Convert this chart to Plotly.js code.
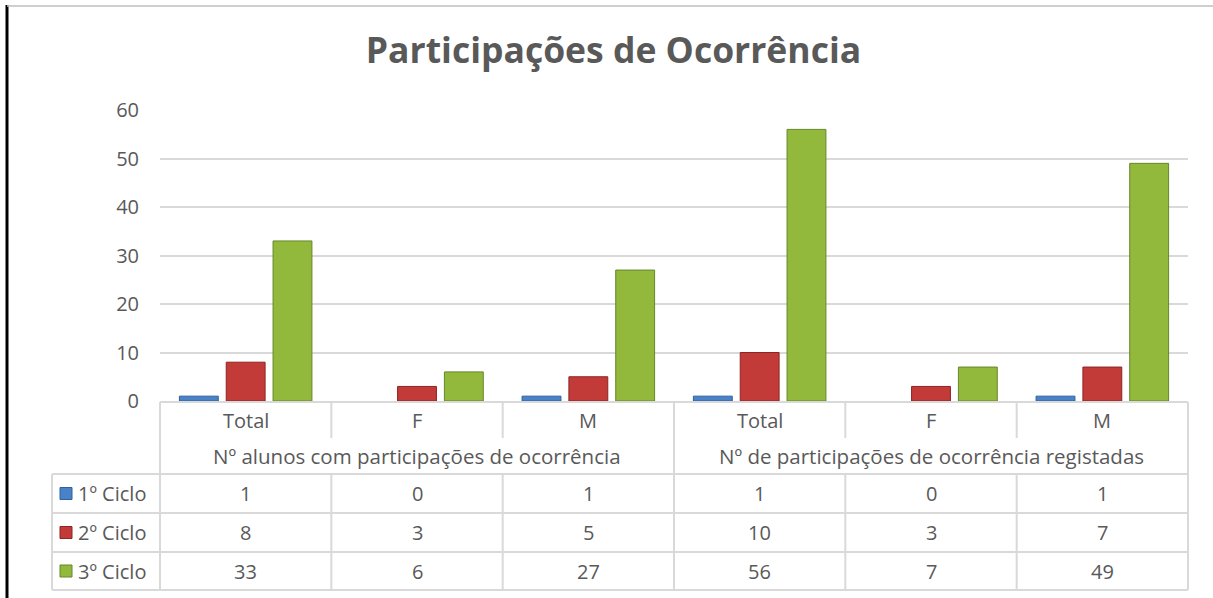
<!DOCTYPE html>
<html>
<head>
<meta charset="utf-8">
<script src="https://cdn.plot.ly/plotly-3.0.1.min.js"></script>
<style>html,body{margin:0;padding:0;background:#fff;}#chart{width:1213px;height:598px;}</style>
</head>
<body>
<div id="chart"></div>
<script>
// ---- data ----
const title = "Participações de Ocorrência";
const categories = ["Total", "F", "M", "Total", "F", "M"];
const groups = ["Nº alunos com participações de ocorrência", "Nº de participações de ocorrência registadas"];
const seriesNames = ["1º Ciclo", "2º Ciclo", "3º Ciclo"];
const ciclo1 = [1, 0, 1, 1, 0, 1];
const ciclo2 = [8, 3, 5, 10, 3, 7];
const ciclo3 = [33, 6, 27, 56, 7, 49];
const yTicks = [0, 10, 20, 30, 40, 50, 60];

// ---- styling ----
const W = 1213, H = 598;
const ml = 160, mr = 25, mt = 110, mb = 197;
const plotW = W - ml - mr, plotH = H - mt - mb;
const px = p => (p - ml) / plotW;
const py = p => (H - mb - p) / plotH;
const FONT = "'Open Sans', Lato, sans-serif";
const TXT = "#595959";
const GRID = "#d9d9d9";
const colors = ["#4a82c8", "#c23b38", "#92b93c"];
const edge = ["#30619e", "#8c2523", "#67862a"];
const seriesVals = [ciclo1, ciclo2, ciclo3];
const xIdx = categories.map((_, i) => i);

const traces = seriesVals.map((vals, s) => ({
  type: "bar",
  name: seriesNames[s],
  x: xIdx,
  y: vals,
  marker: { color: colors[s], line: { color: edge[s], width: vals.map(v => v > 0 ? 1 : 0) } },
  hoverinfo: "y+name"
}));

const shapes = [];
const annotations = [];
const line = (x0, y0, x1, y1, xref) => shapes.push({
  type: "line", xref: xref || "paper", yref: "paper",
  x0: x0, y0: y0, x1: x1, y1: y1,
  line: { color: GRID, width: 2 }
});

// table rows (pixel positions)
const tTop = 402, catBot = 438, grpBot = 474;
const rowBots = [513, 552, 590];
const tLeft = 52, tRight = 1188;

line(px(ml), py(tTop), px(tRight), py(tTop));
line(px(tLeft), py(grpBot), px(tRight), py(grpBot));
rowBots.forEach(b => line(px(tLeft), py(b), px(tRight), py(b)));
line(px(tLeft), py(grpBot), px(tLeft), py(rowBots[2]));
line(px(ml), py(tTop), px(ml), py(rowBots[2]));
line(px(tRight), py(tTop), px(tRight), py(rowBots[2]));
for (let i = 0; i < categories.length - 1; i++) {
  const xv = i + 0.5;
  if ((i + 1) % 3 === 0) {
    line(xv, py(tTop), xv, py(rowBots[2]), "x");
  } else {
    line(xv, py(tTop), xv, py(catBot), "x");
    line(xv, py(grpBot), xv, py(rowBots[2]), "x");
  }
}

const tfont = { family: FONT, size: 20, color: TXT };
categories.forEach((c, i) => annotations.push({
  x: i, y: py((tTop + catBot) / 2), xref: "x", yref: "paper",
  text: c, showarrow: false, font: tfont, xanchor: "center", yanchor: "middle"
}));
groups.forEach((g, gi) => annotations.push({
  x: gi * 3 + 1, y: py((catBot + grpBot) / 2), xref: "x", yref: "paper",
  text: g, showarrow: false, font: { family: FONT, size: 20.5, color: TXT }, xanchor: "center", yanchor: "middle"
}));
const rowTops = [grpBot, rowBots[0], rowBots[1]];
seriesVals.forEach((vals, s) => {
  const cy = (rowTops[s] + rowBots[s]) / 2;
  vals.forEach((v, i) => annotations.push({
    x: i, y: py(cy), xref: "x", yref: "paper",
    text: String(v), showarrow: false, font: tfont, xanchor: "center", yanchor: "middle"
  }));
  annotations.push({
    x: px(76), y: py(cy), xref: "paper", yref: "paper",
    text: seriesNames[s], showarrow: false, font: tfont, xanchor: "left", yanchor: "middle"
  });
  shapes.push({
    type: "rect", xref: "paper", yref: "paper",
    x0: px(60), x1: px(72), y0: py(cy + 6), y1: py(cy - 6),
    fillcolor: colors[s], line: { color: edge[s], width: 1 }
  });
});

shapes.push({ type: "line", xref: "paper", yref: "paper",
  x0: px(7), x1: px(7), y0: py(5), y1: py(H), line: { color: "#000", width: 3 } });
shapes.push({ type: "line", xref: "paper", yref: "paper",
  x0: px(7), x1: px(W), y0: py(6), y1: py(6), line: { color: "#bfbfbf", width: 1.5 } });

const layout = {
  width: W, height: H,
  margin: { l: ml, r: mr, t: mt, b: mb, pad: 0 },
  paper_bgcolor: "#fff", plot_bgcolor: "#fff",
  title: { text: "<b>" + title + "</b>", x: 613.5 / W, xanchor: "center", y: 1 - 51 / H, yanchor: "middle",
    font: { family: FONT, size: 35.5, color: TXT } },
  showlegend: false,
  barmode: "group",
  bargap: 0.18,
  bargroupgap: 0.17,
  xaxis: { range: [-0.5, 5.5], showticklabels: false, showgrid: false, zeroline: false,
    showline: false, ticks: "", fixedrange: true },
  yaxis: { range: [0, 60], tickvals: yTicks, ticktext: yTicks.map(String),
    showgrid: true, gridcolor: GRID, gridwidth: 2, zeroline: false, showline: false,
    ticks: "", ticklabelstandoff: 20,
    tickfont: { family: FONT, size: 20, color: TXT }, fixedrange: true },
  shapes: shapes,
  annotations: annotations
};

Plotly.newPlot("chart", traces, layout, { displayModeBar: false, staticPlot: true });
</script>
</body>
</html>
